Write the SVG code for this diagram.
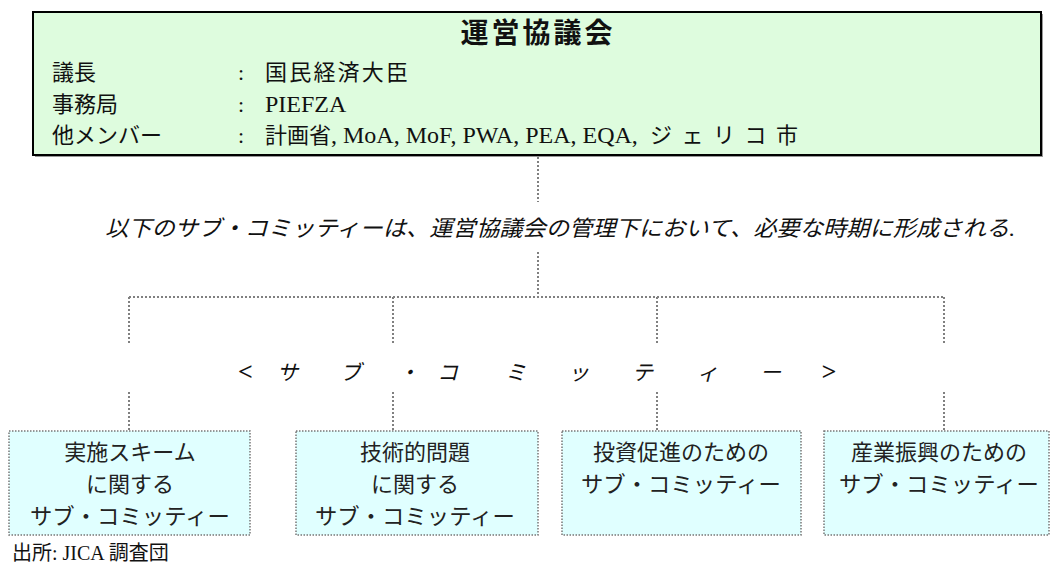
<svg xmlns="http://www.w3.org/2000/svg" width="1051" height="565" viewBox="0 0 1051 565">
<style>
.cjk{font-family:"Liberation Serif","Noto Sans CJK JP",serif;fill:#111}
.lat{font-family:"Liberation Serif","Noto Sans CJK JP",serif;fill:#111}
.conn{stroke:#808080;stroke-width:2;stroke-dasharray:2 2;fill:none}
.sub{fill:#e0ffff;stroke:#777;stroke-width:1.5;stroke-dasharray:1.5 1.5}
.bt{font-family:"Liberation Serif","Noto Sans CJK JP",serif;font-size:22px;fill:#222;text-anchor:middle}
</style>
<rect width="1051" height="565" fill="#fff"/>
<g id="council">
<rect x="35" y="14" width="1008" height="143" fill="#999"/>
<rect x="33" y="12" width="1008" height="143" fill="#defcde" stroke="#000" stroke-width="2"/>
<text class="cjk" x="538" y="43" font-size="28" font-weight="bold" text-anchor="middle" letter-spacing="3">運営協議会</text>
<text class="cjk" font-size="22" x="52" y="80">議長</text>
<text class="cjk" font-size="22" x="52" y="112">事務局</text>
<text class="cjk" font-size="22" x="52" y="143">他メンバー</text>
<text class="lat" font-size="22" x="238" y="80">:</text>
<text class="lat" font-size="22" x="238" y="112">:</text>
<text class="lat" font-size="22" x="238" y="143">:</text>
<text class="cjk" font-size="22" x="265" y="80" textLength="143" lengthAdjust="spacing">国民経済大臣</text>
<text class="lat" font-size="24" x="265" y="112">PIEFZA</text>
<text class="lat" font-size="24" x="265" y="143"><tspan font-size="22">計画省</tspan>, MoA, MoF, PWA, PEA, EQA,</text>
<text class="cjk" font-size="22" x="650" y="143" textLength="148" lengthAdjust="spacing">ジェリコ市</text>
</g>
<g id="note">
<text class="cjk" font-size="22" font-style="italic" x="105" y="236" textLength="910" lengthAdjust="spacingAndGlyphs">以下のサブ・コミッティーは、運営協議会の管理下において、必要な時期に形成される.</text>
</g>
<g id="sublabel">
<text class="cjk" font-size="21" font-style="italic" y="380"><tspan x="238" font-size="26" font-weight="bold">&lt;</tspan><tspan x="277 340 398 437 505 568 632 697 760">サブ・コミッティー</tspan><tspan x="821" font-size="26" font-weight="bold">&gt;</tspan></text>
</g>
<g id="connectors">
<path class="conn" d="M538 157V202M538 252V297M129 297H944M129 297V343M393 297V343M657 297V343M944 297V343M129 392V431M393 392V431M657 392V431M944 392V431"/>
</g>
<g id="sub1">
<rect class="sub" x="9" y="431" width="241" height="104"/>
<text class="bt" x="130" y="460">実施スキーム</text>
<text class="bt" x="130" y="492">に関する</text>
<text class="bt" x="130" y="524" textLength="200" lengthAdjust="spacingAndGlyphs">サブ・コミッティー</text>
</g>
<g id="sub2">
<rect class="sub" x="296" y="431" width="242" height="104"/>
<text class="bt" x="415" y="460">技術的問題</text>
<text class="bt" x="415" y="492">に関する</text>
<text class="bt" x="415" y="524" textLength="200" lengthAdjust="spacingAndGlyphs">サブ・コミッティー</text>
</g>
<g id="sub3">
<rect class="sub" x="562" y="431" width="239" height="104"/>
<text class="bt" x="681" y="460">投資促進のための</text>
<text class="bt" x="681" y="492" textLength="200" lengthAdjust="spacingAndGlyphs">サブ・コミッティー</text>
</g>
<g id="sub4">
<rect class="sub" x="824" y="431" width="225" height="104"/>
<text class="bt" x="939" y="460">産業振興のための</text>
<text class="bt" x="939" y="492" textLength="200" lengthAdjust="spacingAndGlyphs">サブ・コミッティー</text>
</g>
<g id="source">
<text class="cjk" font-size="20" x="12" y="560">出所: JICA 調査団</text>
</g>
</svg>
